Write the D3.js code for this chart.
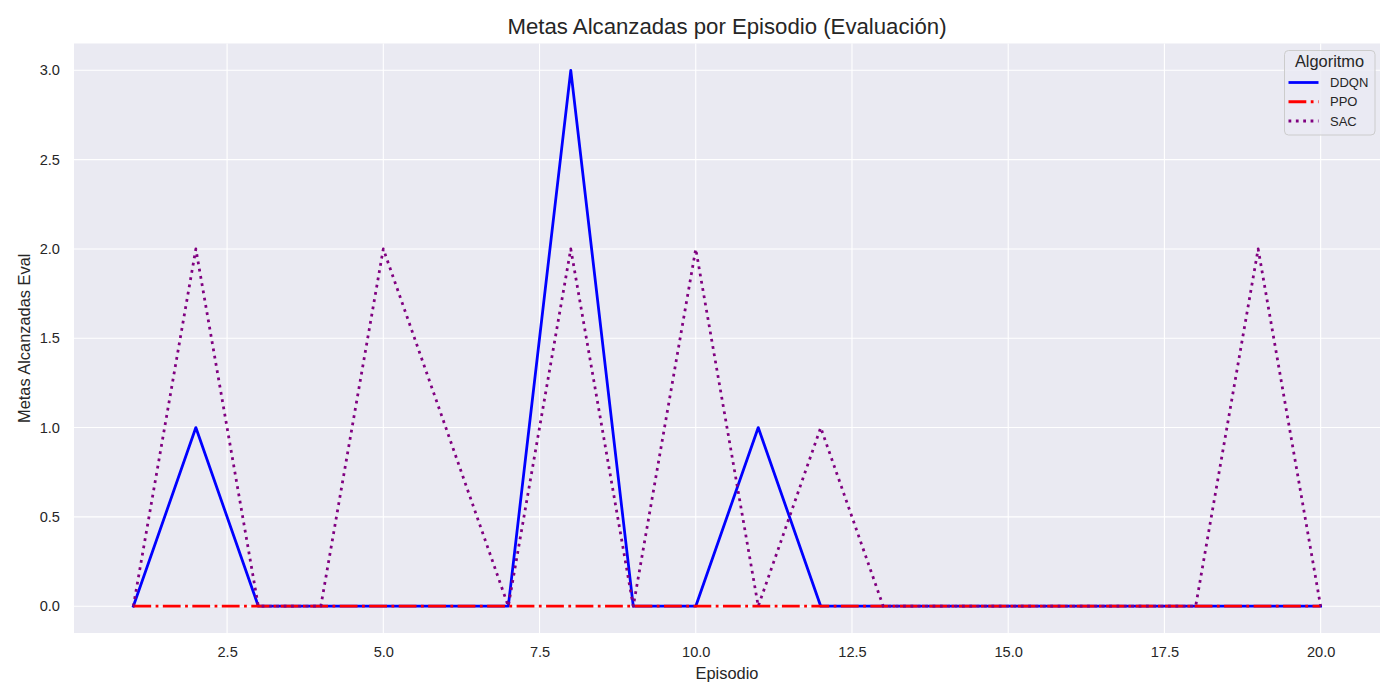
<!DOCTYPE html>
<html><head><meta charset="utf-8">
<script src="https://cdn.jsdelivr.net/npm/d3@7"></script>
<style>body{margin:0;background:#fff;} svg{display:block;font-family:"Liberation Sans",Arial,sans-serif;}</style>
</head><body>
<svg id="chart" width="1400" height="700"></svg>
<script>
const episodes = [1,2,3,4,5,6,7,8,9,10,11,12,13,14,15,16,17,18,19,20];
const ddqn = [0,1,0,0,0,0,0,3,0,0,1,0,0,0,0,0,0,0,0,0];
const ppo  = [0,0,0,0,0,0,0,0,0,0,0,0,0,0,0,0,0,0,0,0];
const sac  = [0,2,0,0,2,1,0,2,0,2,0,1,0,0,0,0,0,0,2,0];
const seriesNames = ["DDQN","PPO","SAC"];
const xTicks = [2.5,5.0,7.5,10.0,12.5,15.0,17.5,20.0];
const yTicks = [0.0,0.5,1.0,1.5,2.0,2.5,3.0];

const styles = {
  DDQN:{color:"#0000ff", dash:null},
  PPO:{color:"#ff0000", dash:"17.8,4.45,2.78,4.45"},
  SAC:{color:"#800080", dash:"2.78,4.58"}
};
const seriesData = {DDQN: ddqn, PPO: ppo, SAC: sac};

const svg = d3.select("#chart");
const L = 74, R = 1380, T = 43.5, B = 633;
const x = d3.scaleLinear().domain([0.05, 20.95]).range([L, R]);
const y = d3.scaleLinear().domain([-0.15, 3.15]).range([B, T]);
const txt = "#262626";

svg.append("rect").attr("x", L).attr("y", T).attr("width", R-L).attr("height", B-T).attr("fill", "#eaeaf2");

const g = svg.append("g");
g.selectAll(".gx").data(xTicks).enter().append("line")
  .attr("x1", d=>x(d)).attr("x2", d=>x(d)).attr("y1", T).attr("y2", B)
  .attr("stroke", "#fff").attr("stroke-width", 1.1);
g.selectAll(".gy").data(yTicks).enter().append("line")
  .attr("y1", d=>y(d)).attr("y2", d=>y(d)).attr("x1", L).attr("x2", R)
  .attr("stroke", "#fff").attr("stroke-width", 1.1);

const xAxis = svg.append("g").attr("transform", `translate(0,${B})`)
  .call(d3.axisBottom(x).tickValues(xTicks).tickFormat(d3.format(".1f")).tickSize(0).tickPadding(14));
xAxis.select(".domain").remove();
xAxis.selectAll("text").attr("font-size", 14.6).attr("fill", txt).attr("font-family", "Liberation Sans, Arial, sans-serif");

const yAxis = svg.append("g").attr("transform", `translate(${L},0)`)
  .call(d3.axisLeft(y).tickValues(yTicks).tickFormat(d3.format(".1f")).tickSize(0).tickPadding(14));
yAxis.select(".domain").remove();
yAxis.selectAll("text").attr("font-size", 14.6).attr("fill", txt).attr("font-family", "Liberation Sans, Arial, sans-serif");

const line = d3.line().x((d,i)=>x(episodes[i])).y(d=>y(d));
seriesNames.forEach(name => {
  const p = svg.append("path").datum(seriesData[name])
    .attr("d", line).attr("fill", "none")
    .attr("stroke", styles[name].color).attr("stroke-width", 2.78)
    .attr("stroke-linejoin", "round").attr("stroke-linecap", name==="DDQN" ? "square" : "butt");
  if (styles[name].dash) p.attr("stroke-dasharray", styles[name].dash);
});

svg.append("text").attr("x", (L+R)/2).attr("y", 34).attr("text-anchor", "middle")
  .attr("font-size", 22.2).attr("fill", txt).text("Metas Alcanzadas por Episodio (Evaluación)");
svg.append("text").attr("x", (L+R)/2).attr("y", 679).attr("text-anchor", "middle")
  .attr("font-size", 16.4).attr("fill", txt).text("Episodio");
svg.append("text").attr("transform", `translate(30,${(T+B)/2}) rotate(-90)`).attr("text-anchor", "middle")
  .attr("font-size", 16.4).attr("fill", txt).text("Metas Alcanzadas Eval");

const lg = svg.append("g");
lg.append("rect").attr("x", 1284.5).attr("y", 50.5).attr("width", 90.5).attr("height", 84.5)
  .attr("rx", 4).attr("fill", "#eaeaf2").attr("fill-opacity", 0.8)
  .attr("stroke", "#cccccc").attr("stroke-width", 1);
lg.append("text").attr("x", 1329.5).attr("y", 67).attr("text-anchor", "middle")
  .attr("font-size", 16.4).attr("fill", txt).text("Algoritmo");
const ly = d3.scalePoint().domain(seriesNames).range([82.5, 121]);
seriesNames.forEach(name => {
  const l = lg.append("line").attr("x1", 1288.5).attr("x2", 1318.5)
    .attr("y1", ly(name)).attr("y2", ly(name))
    .attr("stroke", styles[name].color).attr("stroke-width", 2.78);
  if (styles[name].dash) l.attr("stroke-dasharray", styles[name].dash);
  lg.append("text").attr("x", 1330).attr("y", ly(name)+4.6)
    .attr("font-size", 13).attr("fill", txt).text(name);
});
</script>
</body></html>
